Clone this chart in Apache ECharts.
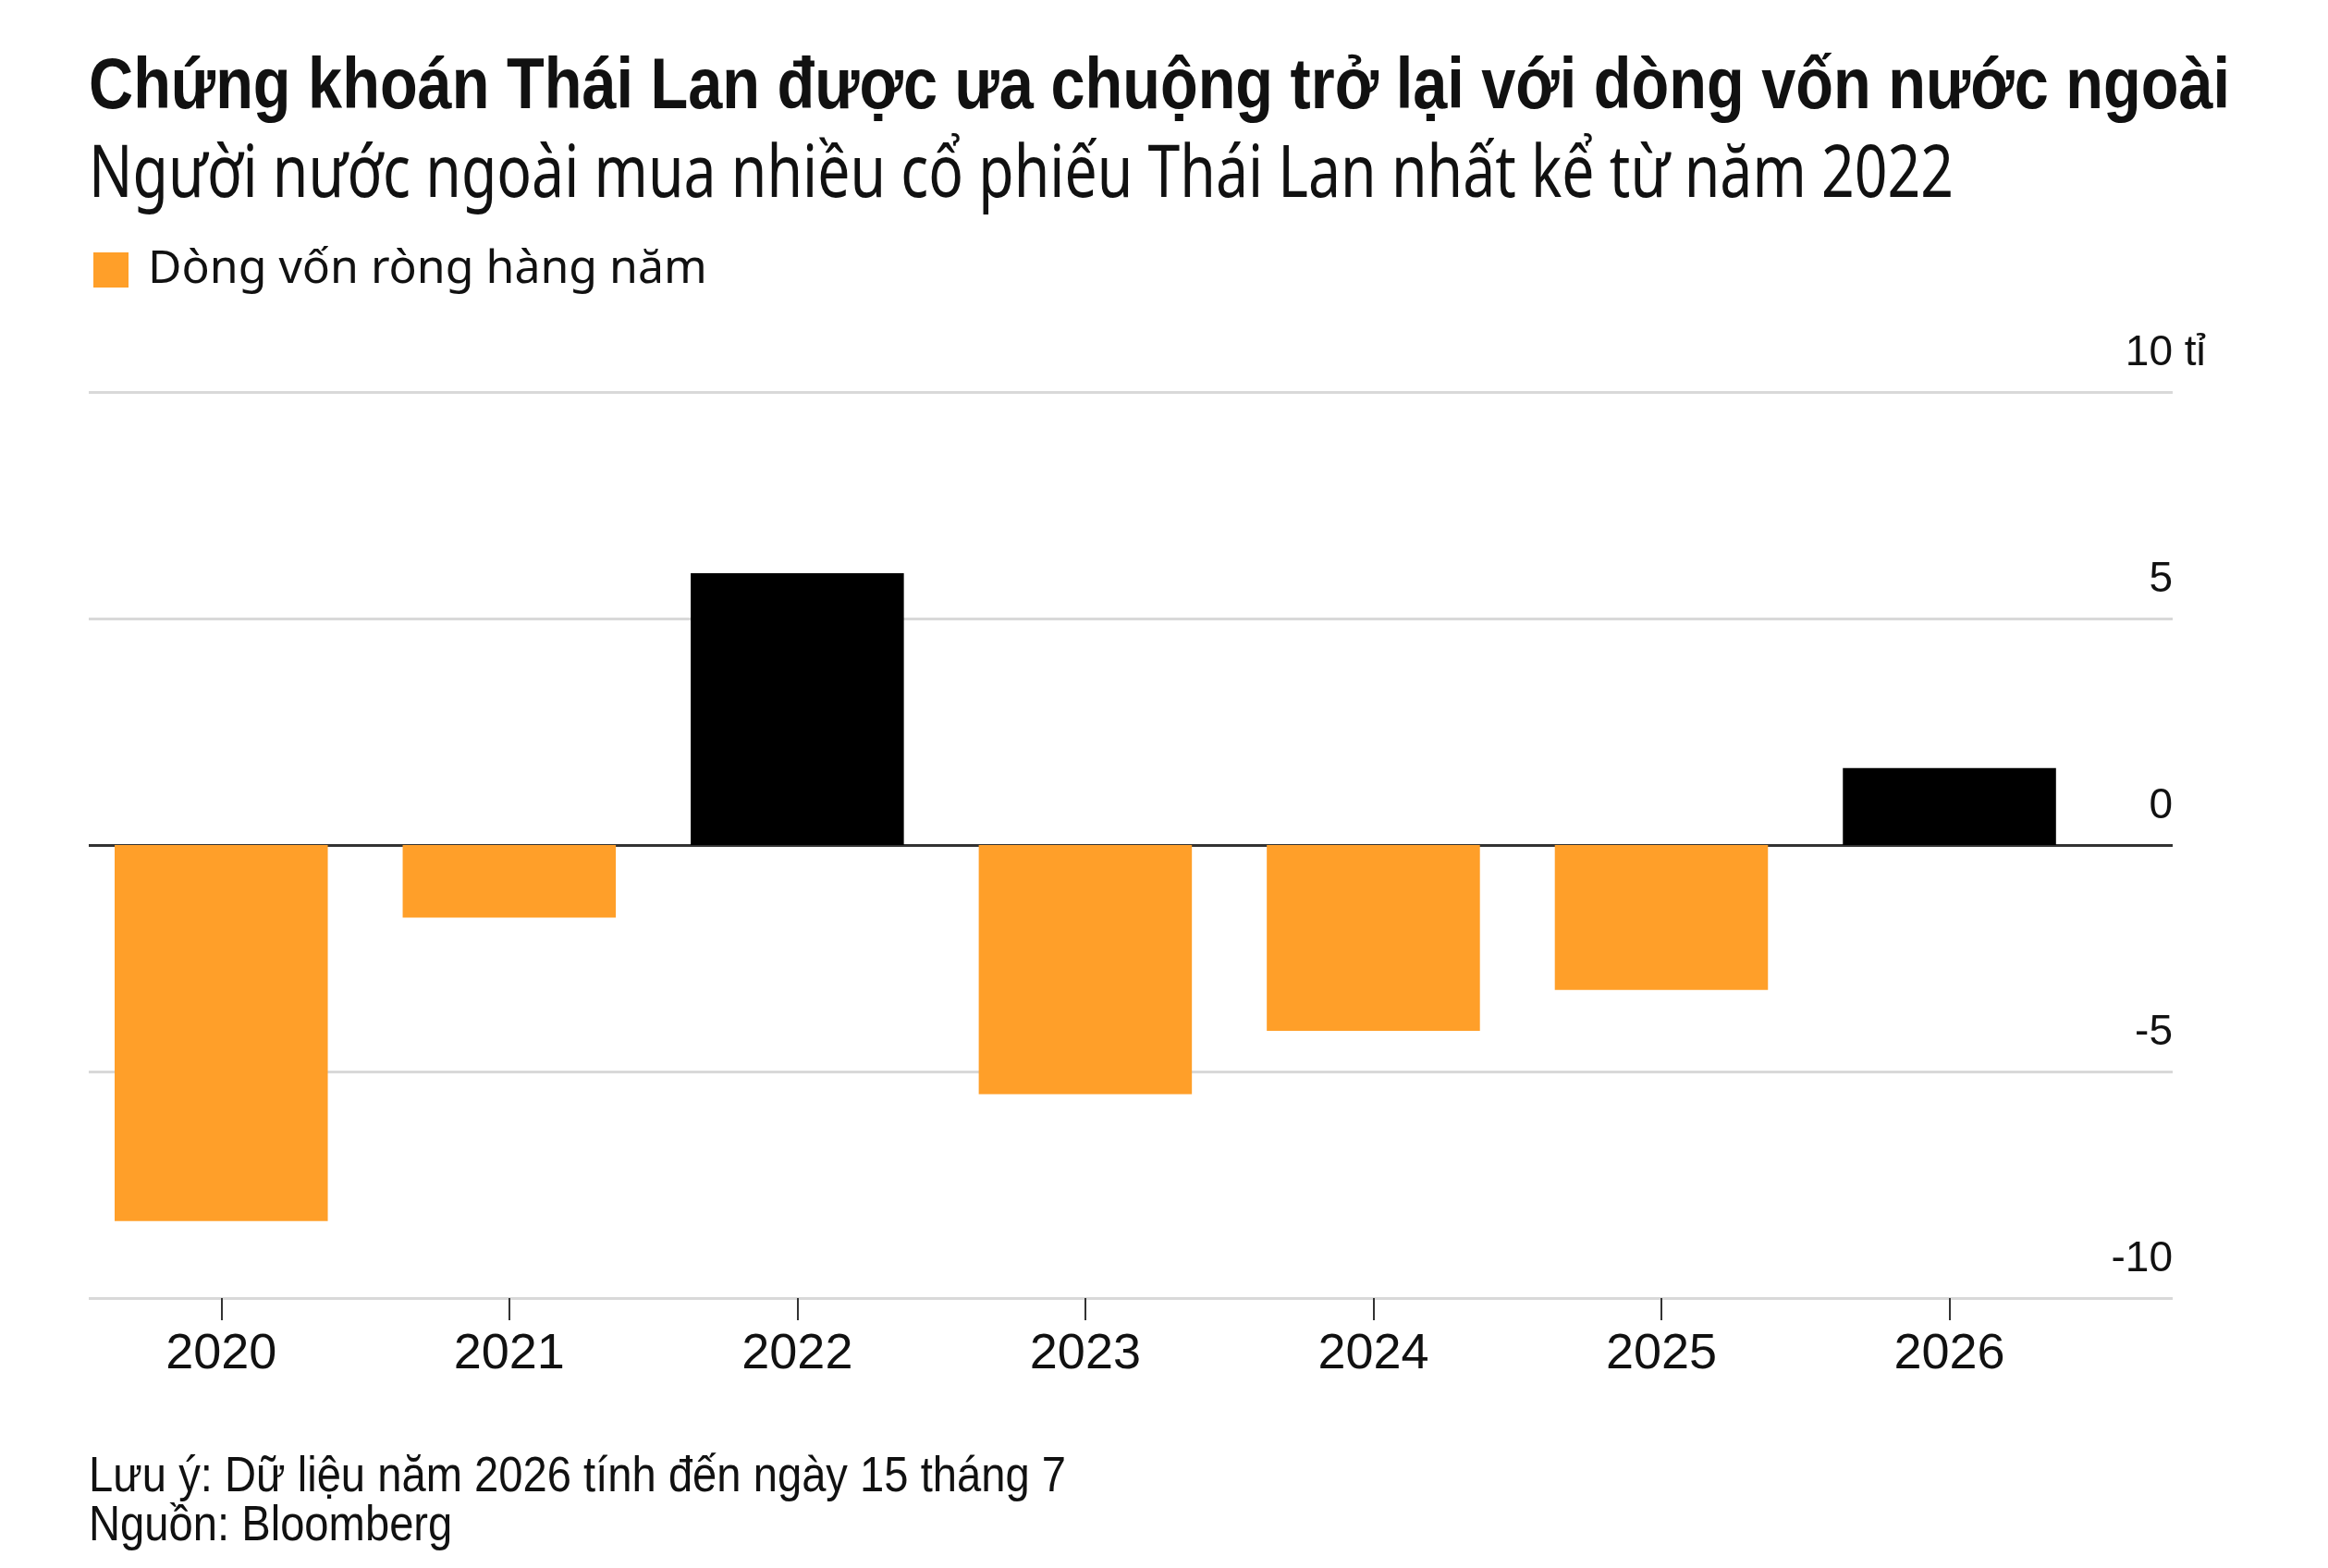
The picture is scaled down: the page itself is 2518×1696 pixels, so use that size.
<!DOCTYPE html>
<html>
<head>
<meta charset="utf-8">
<title>Chứng khoán Thái Lan</title>
<script src="https://cdn.jsdelivr.net/npm/echarts@6/dist/echarts.min.js"></script>
<style>
    html, body { margin: 0; padding: 0; background: #fff; }
    #main { width: 2518px; height: 1696px; }
</style>
</head>
<body>
<div id="main"></div>
<script>
// du lieu
var years = ['2020', '2021', '2022', '2023', '2024', '2025', '2026'];
var netFlows = [-8.3, -1.6, 6.0, -5.5, -4.1, -3.2, 1.7];   // ti USD
var yMin = -10, yMax = 10, yStep = 5;

var titleText = 'Chứng khoán Thái Lan được ưa chuộng trở lại với dòng vốn nước ngoài';
var subText = 'Người nước ngoài mua nhiều cổ phiếu Thái Lan nhất kể từ năm 2022';
var seriesName = 'Dòng vốn ròng hàng năm';
var noteText = 'Lưu ý: Dữ liệu năm 2026 tính đến ngày 15 tháng 7';
var sourceText = 'Nguồn: Bloomberg';

var ORANGE = '#FF9F29';
var BLACK = '#000000';
var INK = '#111111';

var myChart = echarts.init(document.getElementById('main'));

// do chieu rong chu de ep ngang (font condensed)
var cv = document.createElement('canvas').getContext('2d');
function fitScale(text, font, target) {
    cv.font = font;
    return target / cv.measureText(text).width;
}

var titleFont = 'bold 78px "Liberation Sans", Arial, sans-serif';
var subFont = '78px "Noto Sans", sans-serif';
var footFont = '53px "Liberation Sans", Arial, sans-serif';
var titleScale = fitScale(titleText, titleFont, 2316);
var subScale = fitScale(subText, subFont, 2017);
var footScale = fitScale(noteText, footFont, 1057);

function headText(text, font, scale, x, y) {
    return {
        type: 'text', x: x, y: y, scaleX: scale, scaleY: 1,
        style: { text: text, font: font, fill: INK, align: 'left', verticalAlign: 'middle' }
    };
}

var option = {
    backgroundColor: '#ffffff',
    animation: false,
    legend: {
        left: 96,
        top: 262,
        itemWidth: 38,
        itemHeight: 38,
        icon: 'rect',
        data: [{ name: seriesName, itemStyle: { color: ORANGE } }],
        textStyle: {
            fontFamily: '"Noto Sans", sans-serif',
            fontSize: 50,
            color: INK,
            padding: [0, 0, 0, 16]
        }
    },
    grid: [
        // luoi ngang + nhan truc y
        { left: 96, right: 168, top: 424, bottom: 292 },
        // cot
        { left: 83.5, right: 253.7, top: 424, bottom: 292 }
    ],
    xAxis: [
        { type: 'category', gridIndex: 0, data: years, show: false },
        {
            type: 'category',
            gridIndex: 1,
            data: years,
            axisLine: { show: false, onZero: false },
            axisTick: {
                show: true,
                alignWithLabel: true,
                length: 24,
                lineStyle: { color: '#333', width: 2 }
            },
            axisLabel: {
                fontFamily: '"Liberation Sans", Arial, sans-serif',
                fontSize: 54,
                color: INK,
                margin: 34,
                lineHeight: 54
            }
        }
    ],
    yAxis: [
        {
            type: 'value',
            gridIndex: 0,
            position: 'right',
            min: yMin,
            max: yMax,
            interval: yStep,
            axisLine: { show: false },
            axisTick: { show: false },
            splitLine: {
                show: true,
                lineStyle: {
                    color: ['#d9d9d9', '#d9d9d9', '#333333', '#d9d9d9', '#d9d9d9'],
                    width: 3
                }
            },
            axisLabel: {
                inside: true,
                margin: 0,
                fontFamily: '"Liberation Sans", Arial, sans-serif',
                fontSize: 46,
                color: INK,
                verticalAlign: 'bottom',
                lineHeight: 84
            }
        },
        {
            type: 'value',
            gridIndex: 1,
            min: yMin,
            max: yMax,
            interval: yStep,
            show: false,
            splitLine: { show: false }
        }
    ],
    series: [
        {
            name: seriesName,
            type: 'bar',
            xAxisIndex: 1,
            yAxisIndex: 1,
            barWidth: '74%',
            data: netFlows,
            itemStyle: {
                color: function (p) {
                    return p.value > 0 ? BLACK : ORANGE;   // nam mua rong to den
                }
            },
            z: 3
        }
    ],
    graphic: [
        headText(titleText, titleFont, titleScale, 96, 95),
        headText(subText, subFont, subScale, 96, 191),
        headText(noteText, footFont, footScale, 96, 1598),
        headText(sourceText, footFont, footScale, 96, 1651)
    ]
};

myChart.setOption(option);

// don vi "ti" dat sau so 10 o dau truc
var y10 = myChart.convertToPixel({ yAxisIndex: 0 }, yMax);
myChart.setOption({
    graphic: option.graphic.concat([{
        type: 'text', x: 2350, y: y10 - 42,
        style: {
            text: ' tỉ', font: '46px "Liberation Sans", Arial, sans-serif',
            fill: INK, align: 'left', verticalAlign: 'middle'
        }
    }])
});
</script>
</body>
</html>
